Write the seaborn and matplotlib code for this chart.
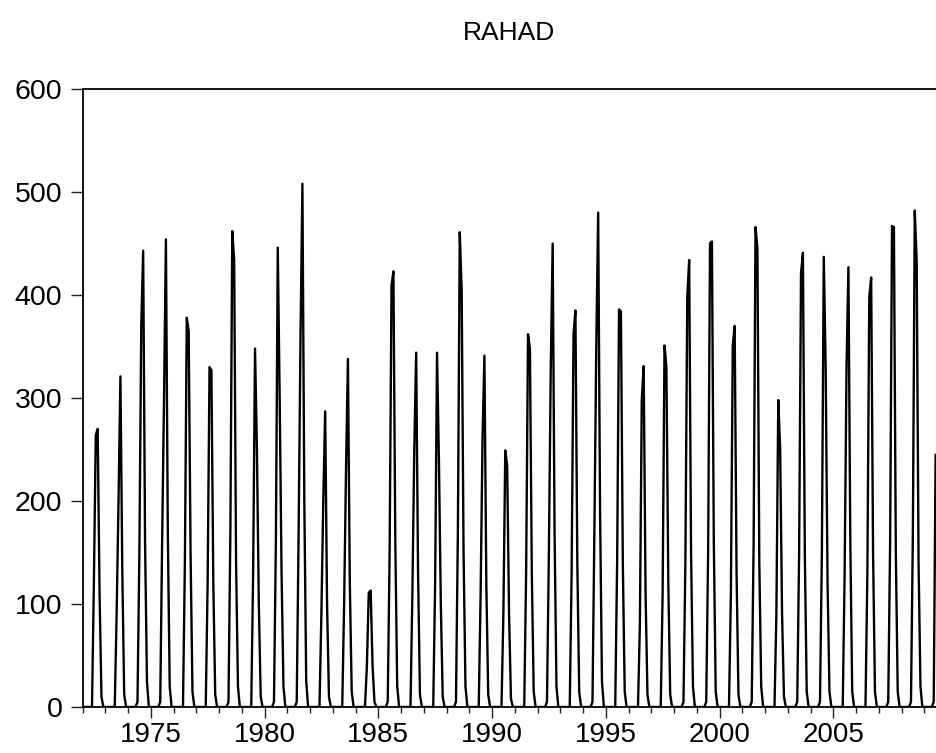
import numpy as np
import pandas as pd
import matplotlib
matplotlib.use("Agg")
import matplotlib.pyplot as plt
import seaborn as sns
from matplotlib.ticker import FixedLocator

# ---- data (monthly flow, zero outside Jun-Nov) ----
years = list(range(1972, 2009))
jun = [0, 0, 5, 5, 0, 0, 5, 0, 5, 5, 0, 0, 0, 5, 0, 0, 5, 0, 0, 0, 5, 0, 5, 0, 0, 0, 5, 5, 0, 5, 0, 5, 5, 0, 0, 5, 5]
jul = [120, 90, 150, 160, 140, 120, 170, 130, 160, 170, 90, 100, 40, 150, 110, 120, 170, 110, 90, 130,
       150, 130, 170, 140, 80, 110, 140, 150, 110, 160, 90, 150, 150, 130, 130, 160, 170]
aug = [264, 200, 371, 300, 378, 330, 462, 348, 446, 360, 200, 230, 111, 409, 250, 344, 461, 260, 249, 362,
       330, 362, 350, 386, 298, 351, 398, 450, 351, 466, 298, 421, 437, 330, 398, 467, 482]
sep = [270, 321, 443, 454, 365, 327, 434, 250, 300, 508, 287, 338, 113, 423, 344, 240, 405, 341, 234, 348,
       450, 385, 480, 384, 331, 330, 434, 452, 370, 445, 250, 441, 330, 427, 417, 466, 433]
oct_ = [110, 130, 160, 170, 150, 120, 140, 100, 130, 200, 100, 120, 40, 160, 130, 100, 150, 120, 90, 130,
        170, 140, 190, 140, 110, 120, 150, 160, 130, 140, 90, 150, 120, 160, 150, 150, 140]
nov = [10, 12, 25, 20, 15, 12, 20, 10, 20, 25, 10, 15, 5, 20, 12, 10, 20, 12, 8, 15,
       20, 15, 25, 15, 12, 12, 20, 15, 12, 20, 10, 15, 15, 15, 15, 15, 20]
last_year = 2009
last_months = [0, 0, 0, 0, 0, 5, 245]   # Jan-Jul 2009

y_ticks = [0, 100, 200, 300, 400, 500, 600]
x_major = [1975, 1980, 1985, 1990, 1995, 2000, 2005]
title = "RAHAD"

# ---- build the monthly table ----
t, v = [], []
for i, y in enumerate(years):
    vals = [0, 0, 0, 0, 0, jun[i], jul[i], aug[i], sep[i], oct_[i], nov[i], 0]
    for m, val in enumerate(vals):
        t.append(y + m / 12)
        v.append(val)
for m, val in enumerate(last_months):
    t.append(last_year + m / 12)
    v.append(val)
df = pd.DataFrame({"t": t, "RAHAD": v})

# ---- plot ----
sns.set_style("ticks")
plt.rcParams["font.family"] = ["Liberation Sans", "DejaVu Sans"]
plt.rcParams["text.color"] = "black"
plt.rcParams["xtick.color"] = "black"
plt.rcParams["ytick.color"] = "black"
plt.rcParams["xtick.labelcolor"] = "black"
plt.rcParams["ytick.labelcolor"] = "black"

W, H = 936, 753
fig = plt.figure(figsize=(W / 100, H / 100), dpi=100)
x0, x1 = 82.5, 82.5 + 38 * 22.75
ytop, ybot = 89, 707
ax = fig.add_axes([x0 / W, (H - ybot) / H, (x1 - x0) / W, (ybot - ytop) / H])

sns.lineplot(data=df, x="t", y="RAHAD", ax=ax, color="black", linewidth=1.7,
             estimator=None, sort=False)

ax.set_xlim(1972, 2010)
ax.set_ylim(0, 600)
ax.set_xlabel("")
ax.set_ylabel("")

ax.xaxis.set_major_locator(FixedLocator(x_major))
ax.xaxis.set_minor_locator(FixedLocator(list(range(1972, 2010))))
ax.yaxis.set_major_locator(FixedLocator(y_ticks))
ax.set_xticklabels([str(x) for x in x_major])
ax.set_yticklabels([str(y) for y in y_ticks])

ax.tick_params(axis="x", which="major", direction="out", length=8, width=1.0,
               labelsize=20, pad=3, color="#222222", labelcolor="black")
ax.tick_params(axis="x", which="minor", direction="out", length=4.5, width=1.0, color="#222222")
ax.tick_params(axis="y", which="major", direction="out", length=8.5, width=1.0,
               labelsize=20.5, pad=6, color="#222222", labelcolor="black")
ax.tick_params(top=False, right=False)

for s in ["left", "bottom", "top"]:
    ax.spines[s].set_visible(True)
    ax.spines[s].set_color("black")
    ax.spines[s].set_linewidth(1.3)
ax.spines["right"].set_visible(False)
ax.set_facecolor("white")
fig.patch.set_facecolor("white")

fig.text(509 / W, 1 - 33 / H, title, ha="center", va="center", fontsize=19, color="black")

fig.savefig("out.png", dpi=100, facecolor="white")
